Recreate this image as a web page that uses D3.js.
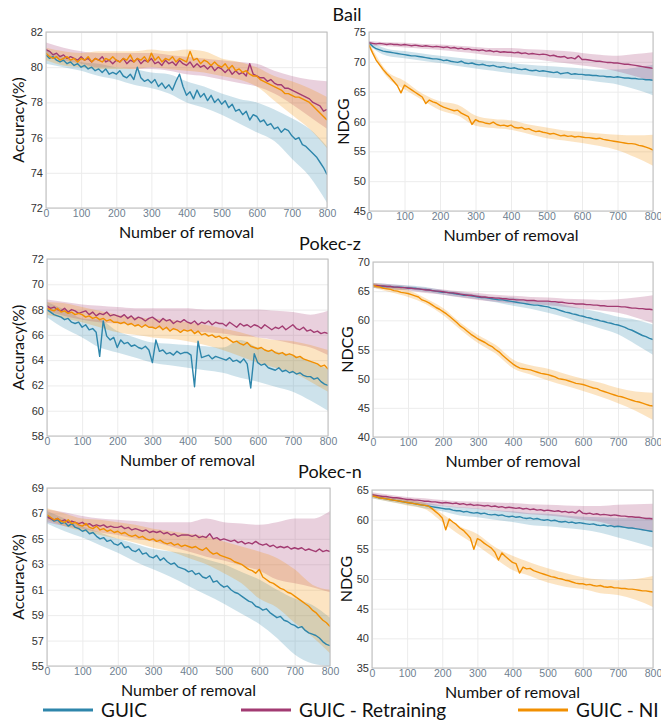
<!DOCTYPE html>
<html>
<head>
<meta charset="utf-8">
<script src="https://cdn.jsdelivr.net/npm/d3@7"></script>
<style>
  body { margin: 0; background: #fff; }
  svg { display: block; }
</style>
</head>
<body>
<div id="chart"></div>
<script>
// x positions of the sampled curves (number of removed items)
const removals = d3.range(0, 801, 10);
const bandRemovals = d3.range(0, 801, 50);
const xTicks = [0, 100, 200, 300, 400, 500, 600, 700, 800];

const seriesNames = ['GUIC', 'GUIC - Retraining', 'GUIC - NI'];
const datasetNames = ['Bail', 'Pokec-z', 'Pokec-n'];

// ---- Bail, accuracy ----
const bailAccGuic = [
  80.7, 80.5, 80.6, 80.4, 80.3, 80.4, 80.2, 80.3, 80.1, 80.2,
  80.0, 80.1, 79.9, 80.0, 79.8, 79.9, 79.7, 79.9, 79.6, 79.7,
  79.6, 79.8, 79.5, 79.4, 79.6, 79.3, 80.0, 79.4, 79.2, 79.3,
  79.1, 79.3, 78.9, 79.1, 78.8, 79.0, 78.7, 79.2, 79.6, 78.9,
  78.4, 78.6, 78.2, 78.7, 78.3, 78.5, 78.1, 78.4, 78.0, 78.2,
  77.9, 78.1, 77.7, 77.9, 77.5, 77.6, 77.3, 77.5, 77.0, 77.3,
  77.2, 76.9, 77.0, 76.7, 76.8, 76.5, 76.6, 76.3, 76.5, 76.4,
  76.1, 75.9, 76.0, 75.6, 75.5, 75.3, 75.1, 74.9, 74.6, 74.3, 73.9];
const bailAccRetrain = [
  81.0, 80.9, 80.7, 80.8, 80.6, 80.7, 80.5, 80.6, 80.5, 80.4,
  80.6, 80.4, 80.5, 80.3, 80.5, 80.4, 80.6, 80.3, 80.4, 80.2,
  80.4, 80.3, 80.5, 80.2, 80.4, 80.3, 80.5, 80.2, 80.4, 80.3,
  80.5, 80.2, 80.3, 80.1, 80.4, 80.2, 80.3, 80.1, 80.4, 80.2,
  80.1, 80.3, 80.0, 80.2, 80.0, 80.1, 79.9, 80.1, 79.8, 80.0,
  79.9, 79.7, 79.9, 79.6, 79.8, 79.6, 79.7, 79.5, 80.2, 79.6,
  79.5, 79.4, 79.4, 79.2, 79.3, 79.1, 79.0, 79.0, 78.8, 78.8,
  78.7, 78.6, 78.5, 78.4, 78.3, 78.2, 78.0, 77.9, 77.8, 77.5, 77.6];
const bailAccNi = [
  80.8, 80.6, 80.5, 80.6, 80.4, 80.5, 80.6, 80.4, 80.5, 80.3,
  80.5, 80.4, 80.6, 80.3, 80.5, 80.4, 80.3, 80.5, 80.4, 80.6,
  80.4, 80.3, 80.5, 80.4, 80.7, 80.3, 80.5, 80.4, 80.6, 80.3,
  80.8, 80.4, 80.6, 80.3, 80.5, 80.4, 80.6, 80.3, 80.5, 80.4,
  80.3, 80.9, 80.4, 80.5, 80.2, 80.4, 80.3, 80.1, 80.3, 80.1,
  80.0, 80.2, 79.9, 80.1, 79.8, 79.9, 79.7, 79.8, 79.6, 79.5,
  79.5, 79.3, 79.2, 79.1, 79.0, 78.9, 78.8, 78.7, 78.5, 78.5,
  78.4, 78.3, 78.3, 78.2, 78.1, 78.0, 77.8, 77.6, 77.4, 77.2, 77.0];
const bailAccGuicLo = [80.2, 80.0, 79.8, 79.5, 79.3, 79.0, 78.8, 78.5, 78.0, 77.7, 77.3, 76.8, 76.3, 75.8, 74.8, 73.8, 72.3];
const bailAccGuicHi = [81.0, 80.6, 80.3, 80.2, 80.0, 79.9, 79.7, 79.6, 79.2, 78.9, 78.5, 78.2, 78.0, 77.6, 77.1, 76.5, 75.5];
const bailAccRetrainLo = [80.6, 80.4, 80.2, 80.0, 80.0, 79.9, 79.9, 79.8, 79.6, 79.5, 79.3, 79.1, 78.9, 78.5, 77.9, 77.2, 76.5];
const bailAccRetrainHi = [81.4, 81.1, 80.9, 80.8, 80.8, 80.8, 80.8, 80.7, 80.6, 80.5, 80.4, 80.3, 80.2, 79.8, 79.5, 79.3, 79.2];
const bailAccNiLo = [80.4, 80.1, 80.0, 79.9, 79.9, 79.9, 80.0, 79.9, 79.8, 79.7, 79.5, 79.3, 78.9, 78.1, 77.3, 76.5, 75.4];
const bailAccNiHi = [81.1, 80.9, 80.8, 80.9, 80.9, 80.9, 81.0, 80.9, 81.0, 80.9, 80.5, 80.3, 80.0, 79.5, 79.2, 78.8, 78.3];

// ---- Bail, NDCG ----
const bailNdcgGuic = [
  73.2, 72.6, 72.2, 72.0, 71.8, 71.7, 71.6, 71.5, 71.4, 71.3,
  71.2, 71.1, 71.0, 71.0, 70.9, 70.8, 70.7, 70.6, 70.5, 70.5,
  70.4, 70.2, 70.3, 70.1, 70.0, 69.9, 70.1, 69.8, 69.7, 69.8,
  69.6, 69.5, 69.6, 69.4, 69.3, 69.4, 69.2, 69.1, 69.2, 69.0,
  68.9, 69.0, 68.8, 68.7, 68.8, 68.6, 68.5, 68.6, 68.4, 68.5,
  68.4, 68.3, 68.2, 68.3, 68.0, 68.1, 68.2, 67.9, 68.0, 67.9,
  67.9, 67.8, 67.8, 67.7, 67.7, 67.6, 67.6, 67.5, 67.5, 67.4,
  67.5, 67.4, 67.3, 67.3, 67.2, 67.2, 67.1, 67.1, 67.0, 67.0, 66.9];
const bailNdcgRetrain = [
  73.2, 73.1, 73.0, 73.1, 73.0, 72.9, 73.0, 72.9, 72.9, 72.8,
  72.9, 72.8, 72.7, 72.8, 72.7, 72.6, 72.7, 72.6, 72.5, 72.6,
  72.5, 72.4, 72.5, 72.3, 72.4, 72.2, 72.3, 72.1, 72.2, 72.0,
  72.0, 71.9, 72.0, 71.8, 71.9, 71.7, 71.8, 71.6, 71.7, 71.6,
  71.6, 71.5, 71.6, 71.4, 71.5, 71.3, 71.4, 71.3, 71.2, 71.3,
  71.2, 71.0, 71.1, 70.9, 70.8, 70.9, 70.6, 70.7, 70.5, 71.0,
  70.4, 70.4, 70.3, 70.2, 70.1, 70.1, 70.0, 69.9, 69.9, 69.8,
  69.8, 69.7, 69.6, 69.6, 69.5, 69.4, 69.3, 69.2, 69.1, 69.0, 68.9];
const bailNdcgNi = [
  72.8, 71.5, 70.3, 69.5, 68.7, 68.0, 67.4, 66.7, 66.0, 64.8,
  66.1, 65.7, 65.3, 64.9, 64.5, 64.1, 63.0, 63.6, 63.3, 63.1,
  62.7, 62.4, 62.2, 62.0, 61.8, 61.9, 61.4, 61.1, 60.8, 59.5,
  60.3, 60.0, 59.9, 59.7, 59.6, 59.9, 59.5, 59.3, 59.4, 59.2,
  59.4, 59.0, 58.9, 59.0, 58.7, 58.8, 58.5, 58.3, 58.4, 58.2,
  58.1, 57.9, 58.0, 57.8, 57.6, 57.7, 57.5, 57.6, 57.4, 57.5,
  57.4, 57.3, 57.3, 57.2, 57.1, 57.2, 57.0, 56.9, 56.8, 56.7,
  56.6, 56.5, 56.4, 56.3, 56.3, 56.2, 56.0, 55.9, 55.7, 55.5, 55.2];
const bailNdcgGuicLo = [72.8, 71.0, 70.6, 70.2, 69.8, 69.3, 68.9, 68.5, 68.1, 67.8, 67.4, 67.2, 67.0, 66.6, 66.2, 65.4, 64.4];
const bailNdcgGuicHi = [73.5, 72.2, 71.8, 71.4, 71.0, 70.7, 70.4, 70.1, 69.8, 69.5, 69.3, 69.1, 68.9, 68.7, 68.7, 69.0, 69.5];
const bailNdcgRetrainLo = [72.8, 72.6, 72.4, 72.2, 72.0, 71.7, 71.4, 71.0, 70.8, 70.5, 70.2, 69.8, 69.4, 69.0, 68.4, 67.6, 66.8];
const bailNdcgRetrainHi = [73.5, 73.3, 73.2, 73.0, 72.9, 72.7, 72.5, 72.3, 72.3, 72.1, 72.0, 71.8, 71.5, 71.2, 71.0, 71.3, 71.6];
const bailNdcgNiLo = [72.5, 67.5, 65.4, 63.6, 61.9, 61.0, 59.3, 58.9, 58.6, 57.9, 57.2, 56.8, 56.4, 55.9, 55.2, 54.0, 52.6];
const bailNdcgNiHi = [73.3, 68.5, 66.8, 64.7, 63.4, 62.8, 61.0, 60.4, 60.2, 59.5, 59.0, 58.5, 58.3, 58.0, 57.8, 57.7, 57.8];

// ---- Pokec-z, accuracy ----
const pokzAccGuic = [
  68.0, 67.8, 67.6, 67.5, 67.4, 67.2, 67.3, 67.0, 66.9, 67.0,
  66.6, 66.8, 66.4, 66.5, 66.2, 64.3, 67.1, 65.9, 65.6, 65.8,
  65.0, 65.6, 65.3, 65.4, 65.1, 65.2, 65.0, 64.9, 65.1, 64.8,
  63.8, 65.6, 64.7, 64.8, 64.5, 64.6, 64.4, 64.7, 64.5, 64.6,
  64.6, 64.4, 61.9, 65.5, 64.2, 64.3, 64.4, 64.1, 64.3, 64.2,
  64.1, 64.0, 64.2, 63.9, 64.0, 63.8, 64.1, 63.7, 61.8, 64.5,
  63.8, 63.6, 63.7, 63.4, 63.3, 63.2, 63.4, 63.1, 63.2, 63.0,
  63.1, 62.9, 63.0, 62.8, 62.7, 62.7, 62.5, 62.6, 62.3, 62.1, 62.0];
const pokzAccRetrain = [
  68.3, 68.1, 68.2, 68.0, 67.9, 68.1, 67.8, 68.0, 67.9, 67.7,
  67.8, 67.9, 67.6, 67.8, 67.5, 67.7, 67.6, 67.8, 67.5, 67.6,
  67.5, 67.4, 67.6, 67.3, 67.5, 67.2, 67.4, 67.3, 67.1, 67.3,
  67.4, 67.2, 67.0, 67.3, 67.1, 67.2, 66.9, 67.1, 67.0, 67.2,
  67.0, 66.9, 67.1, 66.8, 67.0, 66.9, 67.1, 66.8, 67.0, 66.9,
  66.9, 66.7, 67.0, 66.8, 66.6, 66.9, 66.7, 66.8, 66.6, 66.8,
  66.7, 66.5, 66.8, 66.6, 66.4, 66.6, 66.5, 66.7, 66.4, 66.6,
  66.8, 66.5, 66.4, 66.6, 66.3, 66.4, 66.2, 66.3, 66.1, 66.2, 66.1];
const pokzAccNi = [
  68.1, 68.0, 67.9, 68.1, 67.8, 67.9, 67.7, 67.8, 67.6, 67.7,
  67.6, 67.4, 67.5, 67.3, 67.4, 67.2, 67.3, 67.1, 67.2, 67.0,
  67.0, 66.9, 67.0, 66.8, 66.9, 66.7, 66.8, 66.6, 66.8, 66.6,
  66.6, 66.5, 66.7, 66.4, 66.6, 66.3, 66.5, 66.4, 66.2, 66.4,
  66.3, 66.4, 66.1, 66.3, 66.0, 66.1, 65.9, 66.0, 65.8, 65.9,
  65.7, 65.8, 65.6, 65.4, 65.5, 65.3, 65.2, 65.4, 65.1, 65.0,
  64.9, 65.0, 64.8, 64.7, 64.8, 64.6, 64.5, 64.6, 64.4, 64.5,
  64.4, 64.2, 64.3, 64.1, 64.0, 63.9, 63.8, 63.7, 63.5, 63.6, 63.3];
const pokzAccGuicLo = [67.4, 66.5, 65.8, 65.0, 64.6, 64.2, 63.8, 63.6, 63.4, 63.2, 63.0, 62.6, 62.3, 61.9, 61.5, 60.8, 60.0];
const pokzAccGuicHi = [68.6, 68.0, 67.3, 67.2, 66.3, 65.8, 65.4, 65.3, 65.2, 65.1, 65.0, 65.6, 65.0, 64.7, 64.4, 63.9, 63.3];
const pokzAccRetrainLo = [67.9, 67.5, 67.2, 67.0, 66.9, 66.8, 66.6, 66.4, 66.3, 66.2, 66.1, 65.9, 65.8, 65.6, 65.3, 65.0, 64.4];
const pokzAccRetrainHi = [68.8, 68.6, 68.4, 68.3, 68.2, 68.1, 68.1, 68.1, 68.1, 68.0, 68.0, 68.0, 68.0, 67.9, 67.8, 67.6, 67.9];
const pokzAccNiLo = [67.6, 67.3, 67.0, 66.6, 66.2, 66.0, 65.8, 65.7, 65.5, 65.2, 64.8, 64.3, 63.8, 63.4, 63.0, 62.3, 61.5];
const pokzAccNiHi = [68.6, 68.5, 68.2, 67.9, 67.6, 67.4, 67.3, 67.2, 67.0, 66.8, 66.5, 66.2, 65.8, 65.6, 65.5, 65.2, 64.8];

// ---- Pokec-z, NDCG ----
const pokzNdcgGuic = [
  66.0, 65.9, 65.9, 65.8, 65.8, 65.8, 65.7, 65.7, 65.7, 65.6,
  65.6, 65.5, 65.5, 65.4, 65.3, 65.3, 65.2, 65.1, 65.0, 64.9,
  64.8, 64.8, 64.7, 64.6, 64.5, 64.4, 64.3, 64.3, 64.2, 64.1,
  64.0, 63.9, 63.9, 63.8, 63.7, 63.6, 63.5, 63.5, 63.4, 63.3,
  63.2, 63.1, 63.0, 62.9, 62.8, 62.7, 62.6, 62.6, 62.5, 62.4,
  62.3, 62.1, 62.0, 61.8, 61.6, 61.4, 61.3, 61.1, 61.0, 60.8,
  60.7, 60.5, 60.4, 60.2, 60.1, 59.9, 59.8, 59.6, 59.5, 59.3,
  59.2, 59.0, 58.8, 58.5, 58.3, 58.0, 57.7, 57.4, 57.2, 56.9, 56.7];
const pokzNdcgRetrain = [
  66.0, 66.0, 65.9, 65.9, 65.8, 65.8, 65.7, 65.7, 65.6, 65.6,
  65.5, 65.5, 65.4, 65.4, 65.3, 65.2, 65.2, 65.1, 65.0, 65.0,
  64.9, 64.8, 64.7, 64.7, 64.6, 64.5, 64.4, 64.3, 64.3, 64.2,
  64.1, 64.0, 64.0, 63.9, 63.9, 63.8, 63.8, 63.7, 63.7, 63.6,
  63.6, 63.5, 63.5, 63.5, 63.4, 63.4, 63.4, 63.3, 63.3, 63.3,
  63.3, 63.2, 63.2, 63.1, 63.1, 63.0, 62.9, 62.9, 62.8, 62.8,
  62.8, 62.7, 62.7, 62.6, 62.6, 62.5, 62.5, 62.4, 62.4, 62.4,
  62.4, 62.3, 62.3, 62.2, 62.1, 62.1, 62.0, 62.0, 61.9, 61.9, 61.8];
const pokzNdcgNi = [
  66.0, 65.8, 65.7, 65.5, 65.4, 65.3, 65.1, 65.0, 64.8, 64.7,
  64.6, 64.4, 64.2, 64.0, 63.5, 63.3, 63.0, 62.6, 62.2, 61.9,
  61.5, 61.1, 60.6, 60.1, 59.6, 59.0, 58.6, 58.1, 57.6, 57.2,
  56.8, 56.5, 56.2, 55.8, 55.5, 55.0, 54.6, 54.0, 53.5, 53.0,
  52.5, 52.1, 51.8, 51.7, 51.6, 51.5, 51.3, 51.1, 50.9, 50.8,
  50.7, 50.5, 50.3, 50.0, 49.9, 49.8, 49.6, 49.4, 49.2, 49.1,
  49.0, 48.8, 48.6, 48.4, 48.3, 48.0, 47.8, 47.6, 47.4, 47.2,
  47.0, 46.9, 46.7, 46.5, 46.3, 46.1, 46.0, 45.8, 45.6, 45.4, 45.3];
const pokzNdcgGuicLo = [65.6, 65.3, 65.2, 64.9, 64.4, 64.0, 63.6, 63.1, 62.5, 62.0, 61.3, 60.5, 59.5, 58.6, 57.6, 55.9, 54.1];
const pokzNdcgGuicHi = [66.4, 66.2, 66.0, 65.7, 65.2, 64.8, 64.4, 64.0, 63.9, 63.3, 63.3, 62.6, 62.0, 61.4, 60.6, 60.1, 59.3];
const pokzNdcgRetrainLo = [65.6, 65.3, 65.1, 64.7, 64.4, 63.9, 63.5, 63.2, 62.9, 62.8, 62.6, 62.3, 62.0, 61.7, 61.3, 60.5, 59.5];
const pokzNdcgRetrainHi = [66.4, 66.2, 65.9, 65.6, 65.3, 65.0, 64.7, 64.4, 64.2, 64.0, 63.9, 63.7, 63.6, 63.5, 63.6, 63.9, 64.3];
const pokzNdcgNiLo = [65.6, 64.8, 64.0, 62.8, 60.9, 58.4, 56.1, 54.3, 51.8, 50.7, 49.7, 48.8, 47.9, 46.9, 45.8, 44.5, 42.9];
const pokzNdcgNiHi = [66.4, 65.8, 65.2, 63.8, 62.1, 59.6, 57.5, 55.8, 53.3, 52.3, 51.7, 50.8, 50.0, 49.3, 48.4, 47.8, 47.6];

// ---- Pokec-n, accuracy ----
const poknAccGuic = [
  66.8, 66.6, 66.4, 66.5, 66.2, 66.3, 66.0, 66.2, 65.9, 65.8,
  65.6, 65.7, 65.4, 65.5, 65.2, 65.0, 65.1, 64.8, 64.9, 64.6,
  64.5, 64.7, 64.3, 64.4, 64.1, 64.0, 64.2, 63.8, 63.9, 63.6,
  63.5, 63.7, 63.3, 63.5, 63.2, 63.0, 63.1, 62.8, 62.7, 62.6,
  62.4, 62.5, 62.2, 62.3, 62.0, 61.9, 62.1, 61.6, 61.7, 61.4,
  61.2, 61.3, 61.0, 60.8, 60.7, 60.5, 60.3, 60.1, 60.0, 59.7,
  59.6, 59.4, 59.5, 59.2, 59.0, 58.8, 58.9, 58.6, 58.5, 58.3,
  58.2, 58.0, 58.1, 57.8, 57.6, 57.5, 57.4, 57.2, 56.9, 56.7, 56.6];
const poknAccRetrain = [
  66.7, 66.6, 66.5, 66.6, 66.4, 66.5, 66.3, 66.4, 66.3, 66.2,
  66.3, 66.1, 66.2, 66.0, 66.1, 66.0, 66.1, 65.9, 66.0, 65.9,
  65.9, 66.0, 65.8, 65.9, 65.7, 65.8, 65.7, 65.6, 65.7, 65.5,
  65.6, 65.5, 65.6, 65.4, 65.5, 65.3, 65.4, 65.2, 65.3, 65.3,
  65.3, 65.2, 65.3, 65.1, 65.2, 65.1, 65.4, 65.0, 65.1, 64.9,
  65.0, 64.9, 64.8, 64.9, 64.7, 64.8, 64.6, 64.7, 64.6, 64.8,
  64.6, 64.5, 64.6, 64.4, 64.5, 64.3, 64.4, 64.3, 64.4, 64.2,
  64.3, 64.2, 64.3, 64.1, 64.2, 64.1, 64.0, 64.2, 64.0, 64.1, 64.0];
const poknAccNi = [
  66.9, 66.7, 66.5, 66.6, 66.4, 66.3, 66.5, 66.2, 66.3, 66.1,
  66.0, 66.2, 65.9, 65.8, 66.0, 65.7, 65.8, 65.6, 65.7, 65.5,
  65.6, 65.4, 65.5, 65.3, 65.2, 65.3, 65.1, 65.2, 65.0, 64.9,
  65.0, 64.8, 64.9, 64.7, 64.6, 64.7, 64.5, 64.6, 64.4, 64.5,
  64.4, 64.3, 64.4, 64.2, 64.1, 64.3, 64.0, 63.8, 63.9, 63.7,
  63.6, 63.5, 63.4, 63.2, 63.1, 63.0, 62.8, 62.6, 62.5, 62.3,
  62.6, 62.0, 61.8, 61.6, 61.5, 61.3, 61.1, 61.0, 60.8, 60.7,
  60.5, 60.3, 60.1, 59.9, 59.7, 59.4, 59.2, 58.9, 58.6, 58.4, 58.1];
const poknAccGuicLo = [66.2, 65.6, 65.1, 64.5, 63.9, 63.2, 62.6, 62.0, 61.3, 60.6, 59.9, 59.1, 58.3, 57.2, 55.9, 55.2, 55.0];
const poknAccGuicHi = [67.2, 66.6, 66.0, 65.5, 65.0, 64.6, 64.2, 64.0, 63.8, 63.4, 63.0, 62.4, 61.8, 61.0, 60.3, 59.8, 58.8];
const poknAccRetrainLo = [66.3, 66.0, 65.8, 65.5, 65.3, 65.0, 64.8, 64.4, 64.0, 63.6, 63.3, 62.9, 62.5, 61.8, 61.5, 61.2, 60.8];
const poknAccRetrainHi = [67.3, 67.1, 66.8, 66.6, 66.5, 66.4, 66.3, 66.3, 66.3, 66.6, 66.3, 66.2, 66.1, 66.3, 66.6, 66.6, 67.2];
const poknAccNiLo = [66.5, 66.0, 65.6, 65.3, 65.0, 64.7, 64.3, 64.0, 63.5, 63.0, 62.3, 61.5, 60.3, 59.6, 58.4, 57.3, 56.0];
const poknAccNiHi = [67.4, 67.0, 66.6, 66.5, 66.3, 66.1, 65.8, 65.6, 65.4, 65.2, 64.8, 64.4, 64.0, 63.5, 62.6, 61.4, 61.0];

// ---- Pokec-n, NDCG ----
const poknNdcgGuic = [
  64.0, 63.9, 63.7, 63.6, 63.5, 63.4, 63.3, 63.2, 63.1, 63.0,
  62.9, 62.8, 62.7, 62.6, 62.5, 62.4, 62.3, 62.2, 62.1, 62.0,
  61.9, 61.8, 61.8, 61.6, 61.5, 61.5, 61.3, 61.4, 61.2, 61.1,
  61.2, 61.0, 61.1, 60.9, 60.8, 60.9, 60.7, 60.8, 60.6, 60.5,
  60.6, 60.4, 60.5, 60.3, 60.2, 60.3, 60.1, 60.2, 60.0, 59.9,
  60.0, 59.8, 59.9, 59.7, 59.6, 59.7, 59.5, 59.6, 59.4, 59.5,
  59.4, 59.3, 59.2, 59.3, 59.1, 59.0, 59.1, 58.9, 59.0, 58.8,
  58.9, 58.8, 58.7, 58.6, 58.6, 58.5, 58.4, 58.3, 58.2, 58.1, 58.0];
const poknNdcgRetrain = [
  64.2, 64.1, 64.0, 63.9, 63.9, 63.8, 63.7, 63.7, 63.6, 63.5,
  63.4, 63.4, 63.3, 63.3, 63.2, 63.1, 63.1, 63.0, 63.0, 62.9,
  62.8, 62.9, 62.8, 62.7, 62.8, 62.6, 62.7, 62.5, 62.6, 62.4,
  62.5, 62.4, 62.3, 62.4, 62.2, 62.3, 62.1, 62.2, 62.0, 62.1,
  62.0, 61.9, 62.0, 61.8, 61.9, 61.7, 61.8, 61.6, 61.7, 61.5,
  61.6, 61.5, 61.4, 61.5, 61.3, 61.4, 61.2, 61.3, 61.1, 61.6,
  61.1, 61.0, 61.1, 60.9, 61.0, 60.8, 60.9, 60.8, 60.7, 60.8,
  60.7, 60.6, 60.6, 60.5, 60.5, 60.4, 60.4, 60.3, 60.2, 60.2, 60.1];
const poknNdcgNi = [
  64.0, 63.9, 63.7, 63.6, 63.5, 63.4, 63.3, 63.2, 63.1, 63.0,
  62.9, 62.8, 62.7, 62.6, 62.5, 62.4, 62.3, 61.9, 61.4, 60.9,
  60.3, 58.3, 60.1, 59.6, 59.2, 58.6, 58.2, 57.6, 56.9, 55.0,
  56.8, 56.5, 56.0, 55.6, 55.2, 54.5, 53.2, 54.4, 53.8, 53.3,
  52.8, 52.6, 51.0, 52.0, 51.7, 51.8, 51.4, 51.2, 51.0, 50.8,
  50.6, 50.4, 50.3, 50.1, 50.0, 49.8, 49.7, 49.5, 49.3, 49.2,
  49.2, 49.0, 49.1, 48.9, 48.8, 48.9, 48.7, 48.6, 48.7, 48.5,
  48.5, 48.4, 48.4, 48.3, 48.3, 48.2, 48.1, 48.0, 48.0, 47.9, 47.8];
const poknNdcgGuicLo = [63.6, 63.0, 62.5, 61.9, 61.4, 60.7, 60.4, 60.0, 59.6, 59.1, 58.9, 58.6, 58.3, 57.8, 57.0, 56.2, 55.3];
const poknNdcgGuicHi = [64.4, 63.8, 63.3, 62.9, 62.4, 62.1, 61.9, 61.6, 61.4, 61.1, 61.0, 60.7, 60.5, 60.4, 60.3, 60.3, 60.4];
const poknNdcgRetrainLo = [63.8, 63.4, 62.9, 62.5, 62.3, 62.0, 61.8, 61.5, 61.2, 60.9, 60.7, 60.4, 60.0, 59.6, 58.8, 58.4, 58.0];
const poknNdcgRetrainHi = [64.6, 64.2, 63.8, 63.6, 63.3, 63.1, 63.0, 62.9, 62.8, 62.6, 62.5, 62.4, 62.3, 62.3, 62.5, 62.6, 62.7];
const poknNdcgNiLo = [63.6, 63.0, 62.4, 61.8, 59.6, 57.4, 55.6, 53.5, 51.5, 50.5, 49.4, 48.7, 48.3, 47.6, 47.3, 46.5, 45.3];
const poknNdcgNiHi = [64.4, 63.8, 63.4, 62.8, 61.0, 58.9, 57.6, 55.4, 53.9, 52.8, 51.8, 51.0, 50.3, 49.9, 49.8, 50.0, 50.5];

// y ticks per panel
const accTicksBail = [72, 74, 76, 78, 80, 82];
const ndcgTicksBail = [45, 50, 55, 60, 65, 70, 75];
const accTicksPokz = [58, 60, 62, 64, 66, 68, 70, 72];
const ndcgTicksPokz = [40, 45, 50, 55, 60, 65, 70];
const accTicksPokn = [55, 57, 59, 61, 63, 65, 67, 69];
const ndcgTicksPokn = [35, 40, 45, 50, 55, 60, 65];

const colors = ['#2e86ab', '#a23b72', '#f18f01'];

const width = 661, height = 726;
const svg = d3.select('#chart').append('svg')
  .attr('width', width)
  .attr('height', height)
  .style('font-family', 'Lato, "Open Sans", sans-serif');

// plot boxes in pixels
const boxes = [
  { l: 46, r: 327, t: 32, b: 208 },
  { l: 369, r: 653, t: 32, b: 211 },
  { l: 47, r: 328, t: 259, b: 436 },
  { l: 373, r: 653, t: 262, b: 437 },
  { l: 47, r: 330, t: 488, b: 666 },
  { l: 372, r: 653, t: 490, b: 668 }
];

const panels = [
  { yLabel: 'Accuracy(%)', ticks: accTicksBail,
    lines: [bailAccGuic, bailAccRetrain, bailAccNi],
    lo: [bailAccGuicLo, bailAccRetrainLo, bailAccNiLo],
    hi: [bailAccGuicHi, bailAccRetrainHi, bailAccNiHi] },
  { yLabel: 'NDCG', ticks: ndcgTicksBail,
    lines: [bailNdcgGuic, bailNdcgRetrain, bailNdcgNi],
    lo: [bailNdcgGuicLo, bailNdcgRetrainLo, bailNdcgNiLo],
    hi: [bailNdcgGuicHi, bailNdcgRetrainHi, bailNdcgNiHi] },
  { yLabel: 'Accuracy(%)', ticks: accTicksPokz,
    lines: [pokzAccGuic, pokzAccRetrain, pokzAccNi],
    lo: [pokzAccGuicLo, pokzAccRetrainLo, pokzAccNiLo],
    hi: [pokzAccGuicHi, pokzAccRetrainHi, pokzAccNiHi] },
  { yLabel: 'NDCG', ticks: ndcgTicksPokz,
    lines: [pokzNdcgGuic, pokzNdcgRetrain, pokzNdcgNi],
    lo: [pokzNdcgGuicLo, pokzNdcgRetrainLo, pokzNdcgNiLo],
    hi: [pokzNdcgGuicHi, pokzNdcgRetrainHi, pokzNdcgNiHi] },
  { yLabel: 'Accuracy(%)', ticks: accTicksPokn,
    lines: [poknAccGuic, poknAccRetrain, poknAccNi],
    lo: [poknAccGuicLo, poknAccRetrainLo, poknAccNiLo],
    hi: [poknAccGuicHi, poknAccRetrainHi, poknAccNiHi] },
  { yLabel: 'NDCG', ticks: ndcgTicksPokn,
    lines: [poknNdcgGuic, poknNdcgRetrain, poknNdcgNi],
    lo: [poknNdcgGuicLo, poknNdcgRetrainLo, poknNdcgNiLo],
    hi: [poknNdcgGuicHi, poknNdcgRetrainHi, poknNdcgNiHi] }
];

panels.forEach((p, i) => {
  const box = boxes[i];
  const x = d3.scaleLinear().domain([0, 800]).range([box.l, box.r]);
  const y = d3.scaleLinear().domain(d3.extent(p.ticks)).range([box.b, box.t]);
  const g = svg.append('g');

  // grid
  g.append('g')
    .attr('transform', `translate(0,${box.b})`)
    .call(d3.axisBottom(x).tickValues(xTicks).tickSize(box.t - box.b).tickFormat(''))
    .call(a => a.select('.domain').remove())
    .selectAll('line').attr('stroke', '#ececec');
  g.append('g')
    .attr('transform', `translate(${box.l},0)`)
    .call(d3.axisLeft(y).tickValues(p.ticks).tickSize(box.l - box.r).tickFormat(''))
    .call(a => a.select('.domain').remove())
    .selectAll('line').attr('stroke', '#ececec');

  const clipId = 'clip' + i;
  g.append('clipPath').attr('id', clipId)
    .append('rect')
    .attr('x', box.l).attr('y', box.t)
    .attr('width', box.r - box.l).attr('height', box.b - box.t);
  const plot = g.append('g').attr('clip-path', `url(#${clipId})`);

  const band = d3.area()
    .x((d, j) => x(bandRemovals[j]))
    .y0(d => y(d[0]))
    .y1(d => y(d[1]))
    .curve(d3.curveMonotoneX);
  p.lo.forEach((lo, k) => {
    plot.append('path')
      .datum(lo.map((v, j) => [v, p.hi[k][j]]))
      .attr('fill', colors[k])
      .attr('fill-opacity', 0.24)
      .attr('d', band);
  });

  const line = d3.line()
    .x((d, j) => x(removals[j]))
    .y(d => y(d));
  p.lines.forEach((vals, k) => {
    plot.append('path')
      .datum(vals)
      .attr('fill', 'none')
      .attr('stroke', colors[k])
      .attr('stroke-width', 1.4)
      .attr('stroke-linejoin', 'round')
      .attr('d', line);
  });

  // frame
  g.append('rect')
    .attr('x', box.l).attr('y', box.t)
    .attr('width', box.r - box.l).attr('height', box.b - box.t)
    .attr('fill', 'none').attr('stroke', '#bcbcbc');

  // axes labels
  g.append('g')
    .attr('transform', `translate(${box.l},0)`)
    .call(d3.axisLeft(y).tickValues(p.ticks).tickSize(0).tickPadding(3))
    .call(a => a.select('.domain').remove())
    .selectAll('text')
    .attr('fill', '#333')
    .style('font-family', '"Liberation Sans", Arial, sans-serif')
    .style('font-size', '11px');
  g.append('g')
    .attr('transform', `translate(0,${box.b})`)
    .call(d3.axisBottom(x).tickValues(xTicks).tickSize(0).tickPadding(2))
    .call(a => a.select('.domain').remove())
    .selectAll('text')
    .attr('fill', '#6f7f90')
    .style('font-family', '"Liberation Sans", Arial, sans-serif')
    .style('font-size', '10.5px');

  g.append('text')
    .attr('x', (box.l + box.r) / 2)
    .attr('y', box.b + 30)
    .attr('text-anchor', 'middle')
    .attr('font-size', 16)
    .attr('fill', '#111')
    .text('Number of removal');

  g.append('text')
    .attr('transform', `translate(${i % 2 === 0 ? 24 : box.l - 20},${(box.t + box.b) / 2}) rotate(-90)`)
    .attr('text-anchor', 'middle')
    .attr('font-size', 16)
    .attr('fill', '#111')
    .text(p.yLabel);
});

// dataset titles
const titlePos = [[347, 21], [330, 250], [330, 478]];
datasetNames.forEach((name, i) => {
  svg.append('text')
    .attr('x', titlePos[i][0]).attr('y', titlePos[i][1])
    .attr('text-anchor', 'middle')
    .attr('font-size', 18)
    .attr('fill', '#111')
    .text(name);
});

// legend
const legendX = [43, 241, 518];
const legend = svg.append('g').attr('transform', 'translate(0,710)');
seriesNames.forEach((name, i) => {
  legend.append('line')
    .attr('x1', legendX[i]).attr('x2', legendX[i] + 50)
    .attr('stroke', colors[i]).attr('stroke-width', 3);
  legend.append('text')
    .attr('x', legendX[i] + 58).attr('y', 7)
    .attr('font-size', 19)
    .attr('fill', '#111')
    .text(name);
});
</script>
</body>
</html>
